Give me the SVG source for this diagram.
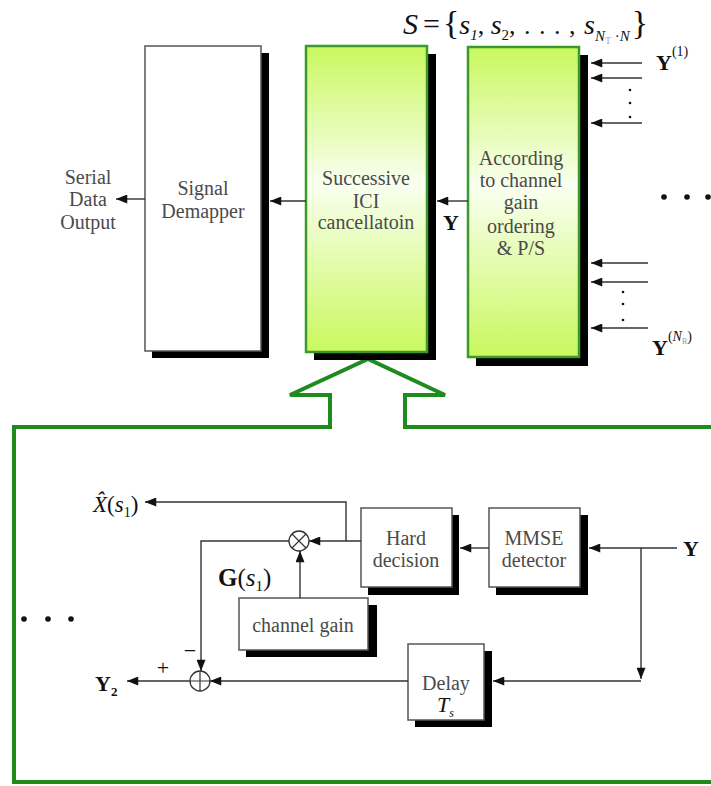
<svg xmlns="http://www.w3.org/2000/svg" width="711" height="786" viewBox="0 0 711 786">
<defs>
<linearGradient id="lime" x1="0" y1="0" x2="0" y2="1">
<stop offset="0" stop-color="#c9f85e"/>
<stop offset="0.45" stop-color="#f9fff0"/>
<stop offset="1" stop-color="#c9f85e"/>
</linearGradient>
<marker id="ah" viewBox="0 0 10 8" refX="10" refY="4" markerWidth="12" markerHeight="9" markerUnits="userSpaceOnUse" orient="auto">
<path d="M0,0 L10,4 L0,8 z" fill="#111"/>
</marker>
</defs>
<style>
text{font-family:"Liberation Serif","DejaVu Serif",serif}
.bx{font-family:"Liberation Serif","DejaVu Serif",serif;font-size:20px;fill:#4a4a4a;text-anchor:middle}
.m{fill:#111}
.b{font-weight:bold}
.i{font-style:italic}
.shadow{fill:#000}
.wbox{fill:#fff;stroke:#555;stroke-width:1.5}
.gbox{fill:url(#lime);stroke:#3a9a2a;stroke-width:2.5}
.arr{fill:none;stroke:#333;stroke-width:1.4;marker-end:url(#ah)}
.frame{fill:none;stroke:#1f8b1f;stroke-width:4}
.dot{fill:#111}
</style>
<rect width="711" height="786" fill="#fff"/>

<g id="frame">
<path class="frame" d="M713,427 L405,427 L405,395 L445,395 L368,359 L290,395 L330,395 L330,427 L14,427 L14,782 L713,782"/>
</g>

<g id="signal-demapper">
<rect class="shadow" x="152" y="53" width="117" height="305"/>
<rect class="wbox" x="145" y="46" width="116" height="305"/>
<text class="bx" x="203" y="195" font-family="Liberation Serif">Signal</text>
<text class="bx" x="203" y="218" font-family="Liberation Serif">Demapper</text>
</g>

<g id="ici-cancellation">
<rect class="shadow" x="314" y="54" width="122" height="306"/>
<rect class="gbox" x="306" y="46" width="121" height="306"/>
<text class="bx" x="366" y="185" font-family="Liberation Serif">Successive</text>
<text class="bx" x="366" y="208" font-family="Liberation Serif">ICI</text>
<text class="bx" x="366" y="229" font-family="Liberation Serif">cancellatoin</text>
</g>

<g id="ordering">
<rect class="shadow" x="476" y="55" width="112" height="311"/>
<rect class="gbox" x="468" y="47" width="111" height="310"/>
<text class="bx" x="521" y="165" font-family="Liberation Serif">According</text>
<text class="bx" x="521" y="187" font-family="Liberation Serif">to channel</text>
<text class="bx" x="521" y="209" font-family="Liberation Serif">gain</text>
<text class="bx" x="521" y="233" font-family="Liberation Serif">ordering</text>
<text class="bx" x="521" y="255" font-family="Liberation Serif" font-size="21" fill="#222">&amp; P/S</text>
</g>

<g id="hard-decision">
<rect class="shadow" x="368" y="515" width="91" height="80"/>
<rect class="wbox" x="361" y="508" width="91" height="79"/>
<text class="bx" x="406" y="545" font-family="Liberation Serif">Hard</text>
<text class="bx" x="406" y="567" font-family="Liberation Serif">decision</text>
</g>

<g id="mmse">
<rect class="shadow" x="496" y="515" width="92" height="80"/>
<rect class="wbox" x="489" y="508" width="91" height="79"/>
<text class="bx" x="534" y="545" font-family="Liberation Serif">MMSE</text>
<text class="bx" x="534" y="567" font-family="Liberation Serif">detector</text>
</g>

<g id="channel-gain">
<rect class="shadow" x="246" y="605" width="131" height="52"/>
<rect class="wbox" x="239" y="598" width="129" height="52"/>
<text class="bx" x="303" y="632" font-family="Liberation Serif">channel gain</text>
</g>

<g id="delay">
<rect class="shadow" x="415" y="651" width="77" height="76"/>
<rect class="wbox" x="408" y="644" width="76" height="76"/>
<text class="bx" x="446" y="690" font-family="Liberation Serif">Delay</text>
<text class="m i" x="437" y="712" font-size="22">T<tspan font-size="12" dy="5">s</tspan></text>
</g>

<g id="multiplier">
<circle cx="299" cy="541" r="10" fill="#fff" stroke="#333" stroke-width="1.3"/>
<path d="M292,534 L306,548 M306,534 L292,548" stroke="#333" stroke-width="1.2"/>
</g>

<g id="adder">
<circle cx="200" cy="681" r="10" fill="#fff" stroke="#333" stroke-width="1.3"/>
<path d="M190,681 L210,681 M200,671 L200,691" stroke="#333" stroke-width="1.2"/>
</g>

<g id="connectors">
<line class="arr" x1="468" y1="201" x2="437" y2="201"/>
<line class="arr" x1="306" y1="201" x2="270" y2="201"/>
<line class="arr" x1="145" y1="199" x2="116" y2="199"/>
<line class="arr" x1="642" y1="63" x2="591" y2="63"/>
<line class="arr" x1="642" y1="78" x2="591" y2="78"/>
<line class="arr" x1="642" y1="123" x2="591" y2="123"/>
<line class="arr" x1="648" y1="263" x2="591" y2="263"/>
<line class="arr" x1="648" y1="282" x2="591" y2="282"/>
<line class="arr" x1="648" y1="328" x2="591" y2="328"/>
<line class="arr" x1="677" y1="548" x2="589" y2="548"/>
<line class="arr" x1="641" y1="548" x2="641" y2="679"/>
<line class="arr" x1="641" y1="681" x2="493" y2="681"/>
<line class="arr" x1="489" y1="548" x2="460" y2="548"/>
<line class="arr" x1="361" y1="541" x2="309" y2="541"/>
<polyline class="arr" points="346,541 346,502 145,502"/>
<line class="arr" x1="300" y1="598" x2="300" y2="551"/>
<polyline class="arr" points="289,541 201,541 201,671"/>
<line class="arr" x1="408" y1="681" x2="210" y2="681"/>
<line class="arr" x1="190" y1="681" x2="127" y2="681"/>
</g>

<g id="labels">
<text class="m" x="403" y="34" font-size="30"><tspan class="i">S</tspan><tspan dx="5">=</tspan><tspan font-size="34" dx="3">{</tspan><tspan class="i" font-size="28">s</tspan><tspan font-size="15" class="i" dy="6">1</tspan><tspan font-size="26" dy="-6">, </tspan><tspan class="i" font-size="28">s</tspan><tspan font-size="15" dy="6">2</tspan><tspan font-size="26" dy="-6" letter-spacing="1">, . . . , </tspan><tspan class="i" font-size="28">s</tspan><tspan font-size="15" class="i" dy="7">N</tspan><tspan font-size="10" fill="#aaa" dy="3">T</tspan><tspan font-size="15" dy="-3"> ·</tspan><tspan font-size="15" class="i">N</tspan><tspan font-size="34" dy="-7" dx="2">}</tspan></text>
<text class="m b" x="451" y="230" font-size="22" text-anchor="middle">Y</text>
<text class="m b" x="656" y="70" font-size="22">Y<tspan font-size="14" font-weight="normal" dy="-14">(1)</tspan></text>
<text class="m b" x="652" y="355" font-size="22">Y<tspan font-size="14" font-weight="normal" dy="-14">(</tspan><tspan font-size="14" font-weight="normal" class="i">N</tspan><tspan font-size="8" font-weight="normal" fill="#999" dy="3">R</tspan><tspan font-size="14" font-weight="normal" dy="-3">)</tspan></text>
<text class="bx" x="88" y="184" font-size="19" font-family="Liberation Serif">Serial</text>
<text class="bx" x="88" y="206" font-size="19" font-family="Liberation Serif">Data</text>
<text class="bx" x="88" y="229" font-size="19" font-family="Liberation Serif">Output</text>
<text class="m" x="93" y="512" font-size="23"><tspan class="i">X̂</tspan>(<tspan class="i">s</tspan><tspan font-size="14" dy="5">1</tspan><tspan dy="-5">)</tspan></text>
<text class="m" x="218" y="586" font-size="25"><tspan class="b">G</tspan>(<tspan class="i">s</tspan><tspan font-size="15" dy="5">1</tspan><tspan dy="-5">)</tspan></text>
<text class="m b" x="683" y="556" font-size="22">Y</text>
<text class="m b" x="95" y="691" font-size="22">Y<tspan font-size="13" dy="5">2</tspan></text>
<text class="m" x="163" y="675" font-size="22" text-anchor="middle">+</text>
<text class="m" x="190" y="658" font-size="22" text-anchor="middle">−</text>
<circle class="dot" cx="24" cy="619" r="2.8"/>
<circle class="dot" cx="48" cy="619" r="2.8"/>
<circle class="dot" cx="71" cy="619" r="2.8"/>
<circle class="dot" cx="664" cy="197" r="2.8"/>
<circle class="dot" cx="687" cy="197" r="2.8"/>
<circle class="dot" cx="708" cy="197" r="2.8"/>
<circle class="dot" cx="630" cy="90" r="1.3"/>
<circle class="dot" cx="630" cy="103" r="1.3"/>
<circle class="dot" cx="630" cy="117" r="1.3"/>
<circle class="dot" cx="623" cy="292" r="1.3"/>
<circle class="dot" cx="623" cy="304" r="1.3"/>
<circle class="dot" cx="623" cy="320" r="1.3"/>
</g>
</svg>
